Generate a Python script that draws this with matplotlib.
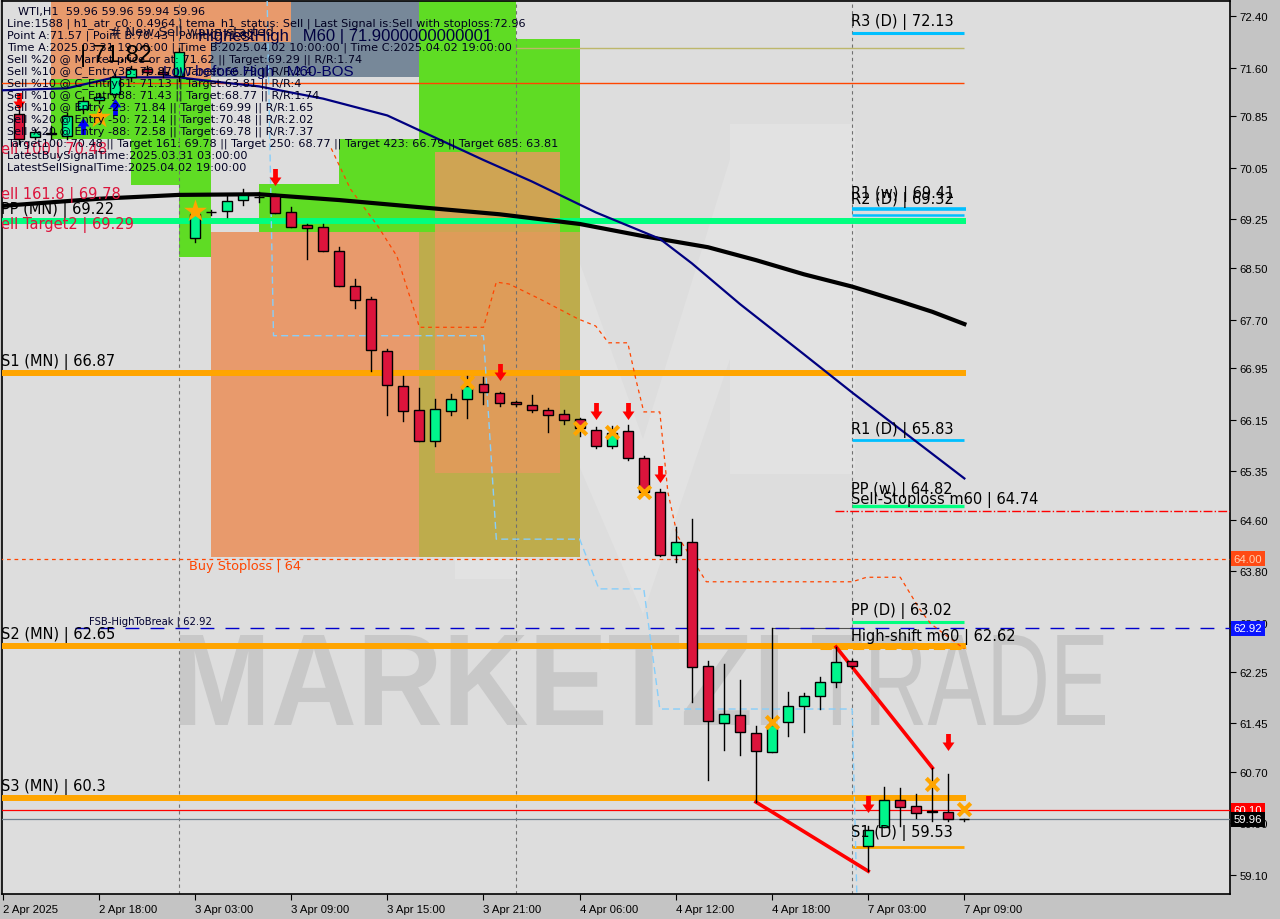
import numpy as np
import matplotlib.pyplot as plt
from matplotlib.patches import Rectangle, PathPatch, Polygon
from matplotlib.path import Path
from matplotlib.textpath import TextPath
from matplotlib.font_manager import FontProperties
from matplotlib.transforms import Affine2D

# ---------------- data ----------------
bars = np.arange(1, 61)
opens = [70.88, 70.53, 70.57, 70.54, 70.96, 71.10, 71.19, 71.46, 71.58, 71.53,
         71.47, 68.96, 69.36, 69.38, 69.55, 69.60, 69.61, 69.37, 69.16, 69.13,
         68.76, 68.22, 68.02, 67.21, 66.67, 66.30, 65.82, 66.28, 66.47, 66.70,
         66.56, 66.42, 66.38, 66.30, 66.24, 66.16, 65.99, 65.74, 65.98, 65.56,
         65.03, 64.06, 64.26, 62.34, 61.45, 61.58, 61.30, 61.01, 61.47, 61.72,
         61.87, 62.09, 62.41, 59.55, 59.84, 60.26, 60.17, 60.07, 60.08, 59.96]
highs = [70.96, 70.65, 70.70, 70.90, 71.15, 71.20, 71.50, 71.62, 71.62, 71.60,
         71.90, 69.41, 69.40, 69.61, 69.72, 69.68, 69.64, 69.44, 69.18, 69.18,
         68.82, 68.33, 68.05, 67.24, 66.83, 66.64, 66.47, 66.55, 66.83, 66.81,
         66.58, 66.44, 66.53, 66.33, 66.30, 66.18, 66.04, 66.05, 66.07, 65.59,
         65.08, 64.49, 64.61, 62.41, 62.37, 62.12, 61.41, 62.93, 61.93, 61.92,
         62.17, 62.63, 62.45, 59.86, 60.46, 60.45, 60.36, 60.76, 60.67, 59.96]
lows = [70.42, 70.50, 70.50, 70.50, 70.90, 71.05, 71.15, 71.40, 71.48, 71.45,
        71.40, 68.90, 69.32, 69.29, 69.47, 69.52, 69.35, 69.13, 68.64, 68.76,
        68.22, 67.88, 66.90, 66.22, 66.13, 65.82, 65.74, 66.22, 66.18, 66.39,
        66.36, 66.36, 66.27, 65.96, 66.08, 65.90, 65.71, 65.71, 65.53, 65.03,
        64.04, 63.95, 61.78, 60.57, 61.04, 60.96, 60.23, 61.00, 61.25, 61.32,
        61.67, 62.01, 62.30, 59.16, 59.84, 59.86, 59.98, 59.94, 59.94, 59.94]
closes = [70.50, 70.60, 70.58, 70.85, 71.08, 71.15, 71.46, 71.58, 71.53, 71.50,
          71.84, 69.33, 69.37, 69.54, 69.63, 69.59, 69.35, 69.13, 69.12, 68.76,
          68.22, 68.00, 67.23, 66.69, 66.28, 65.82, 66.32, 66.47, 66.67, 66.58,
          66.41, 66.40, 66.30, 66.22, 66.15, 66.02, 65.74, 65.94, 65.56, 65.03,
          64.06, 64.26, 62.32, 61.49, 61.59, 61.32, 61.02, 61.42, 61.72, 61.87,
          62.09, 62.40, 62.34, 59.80, 60.26, 60.15, 60.06, 60.09, 59.96, 59.96]

# moving averages (bar, price)
ma_slow_bars = [0, 6, 11, 16, 21, 26, 31, 36, 40, 44, 47, 50, 53, 56, 58, 60]
ma_slow_vals = [69.46, 69.57, 69.63, 69.64, 69.55, 69.44, 69.33, 69.18, 68.99,
                68.82, 68.62, 68.40, 68.21, 67.98, 67.82, 67.63]
ma_fast_bars = [0, 4, 7, 11, 13, 16, 20, 24, 30, 33, 37, 41, 43, 46, 50, 53, 60]
ma_fast_vals = [71.25, 71.28, 71.45, 71.45, 71.39, 71.31, 71.12, 70.86, 70.17,
                69.84, 69.36, 68.95, 68.57, 67.94, 67.16, 66.57, 65.24]

# trailing stop (red dotted) and light blue step line
trail_bars = [20.5, 21.7, 23.4, 24.6, 25.85, 26, 30, 30.8, 31.6, 33.5, 35.9, 37,
              37.8, 39, 39.5, 40, 41, 41.5, 42.1, 42.9, 43.9, 53, 53.9, 56, 57.2,
              57.9, 60]
trail_vals = [70.35, 69.72, 69.15, 68.68, 67.71, 67.58, 67.58, 68.28, 68.25, 68.02,
              67.71, 67.60, 67.34, 67.34, 66.78, 66.27, 66.27, 65.03, 64.35, 64.04,
              63.64, 63.64, 63.71, 63.71, 63.22, 62.99, 62.60]
blue_bars = [16.5, 16.9, 30, 30.8, 36, 37.2, 40, 41, 53, 53.3]
blue_vals = [72.7, 67.45, 67.45, 64.30, 64.30, 63.53, 63.53, 61.67, 61.67, 58.7]

# zones: (bar0, bar1, top, bottom, colour, alpha)
zones = [
    (13, 26, 73.0, 71.455, '#778899', 1.0),
    (3, 18, 73.0, 72.0, '#e89a6c', 1.0),
    (3, 13, 72.0, 71.42, '#e89a6c', 1.0),
    (3, 13, 71.42, 70.50, '#5fdc24', 1.0),
    (8, 13, 70.50, 69.78, '#5fdc24', 1.0),
    (11, 13, 69.78, 68.67, '#5fdc24', 1.0),
    (13, 16, 69.06, 68.67, '#778899', 1.0),
    (16, 21, 69.80, 69.06, '#5fdc24', 1.0),
    (21, 27, 70.50, 69.06, '#5fdc24', 1.0),
    (26, 32, 73.0, 72.04, '#5fdc24', 1.0),
    (26, 36, 72.04, 64.02, '#5fdc24', 1.0),
    (13, 26, 69.06, 64.02, '#e89a6c', 1.0),
    (26, 36, 69.06, 64.02, '#e49a5c', 0.72),
    (27, 34.8, 70.30, 65.32, '#e49a5c', 0.85),
]

# horizontal levels: (price, bar0, bar1, colour, width, style)
levels = [
    (66.87, -1, 60.1, '#ffa500', 4.3, '-'),
    (62.65, -1, 60.1, '#ffa500', 4.3, '-'),
    (60.30, -1, 60.1, '#ffa500', 4.3, '-'),
    (69.22, -1, 60.1, '#00ff7f', 4.3, '-'),
    (71.36, -1, 60.0, '#ff4500', 1.0, '-'),
    (71.90, 32, 60.0, '#bdb76b', 1.0, '-'),
    (72.13, 53, 60.0, '#00bfff', 2.2, '-'),
    (69.41, 53, 60.1, '#00bfff', 2.6, '-'),
    (69.32, 53, 60.0, '#00bfff', 1.8, '-'),
    (65.83, 53, 60.0, '#00bfff', 2.0, '-'),
    (64.82, 53, 60.0, '#00ff7f', 2.4, '-'),
    (63.02, 53, 60.0, '#00ff7f', 2.2, '-'),
    (59.53, 53, 60.0, '#ffa500', 2.0, '-'),
    (62.62, 51, 60.1, '#ffa500', 2.2, '--'),
    (62.92, 48, 53, '#505050', 0.8, '-'),
    (64.74, 51.9, 80, '#ff0000', 1.0, '-.'),
    (62.92, 4.5, 80, '#0000cd', 1.0, (0, (10, 8))),
    (64.00, -1, 80, '#ff4500', 0.9, (0, (3, 3))),
    (60.10, -1, 80, '#ff0000', 0.9, '-'),
    (59.96, -1, 80, '#708090', 0.9, '-'),
]

# labels: (bar, price, text, colour, size)
level_labels = [
    (-0.1, 67.06, 'S1 (MN) | 66.87', '#000000', 10.5),
    (-0.1, 62.83, 'S2 (MN) | 62.65', '#000000', 10.5),
    (-0.1, 60.48, 'S3 (MN) | 60.3', '#000000', 10.5),
    (-0.1, 69.41, 'PP (MN) | 69.22', '#000000', 10.5),
    (-0.1, 69.64, 'ell 161.8 | 69.78', '#dc143c', 10.5),
    (-0.1, 69.18, 'ell Target2 | 69.29', '#dc143c', 10.5),
    (-0.1, 70.34, 'ell 100 | 70.48', '#dc143c', 10.5),
    (52.9, 72.32, 'R3 (D) | 72.13', '#000000', 10.5),
    (52.9, 69.66, 'R1 (w) | 69.41', '#000000', 10.5),
    (52.9, 69.57, 'R2 (D) | 69.32', '#000000', 10.5),
    (52.9, 66.00, 'R1 (D) | 65.83', '#000000', 10.5),
    (52.9, 65.08, 'PP (w) | 64.82', '#000000', 10.5),
    (52.9, 64.92, 'Sell-Stoploss m60 | 64.74', '#000000', 10.5),
    (52.9, 63.20, 'PP (D) | 63.02', '#000000', 10.5),
    (52.9, 62.80, 'High-shift m60 | 62.62', '#000000', 10.5),
    (52.9, 59.77, 'S1 (D) | 59.53', '#000000', 10.5),
    (11.6, 63.885, 'Buy Stoploss | 64', '#ff4500', 9.3),
    (5.4, 63.03, 'FSB-HighToBreak | 62.92', '#000030', 7.2),
]

info_lines = [
    'WTI,H1  59.96 59.96 59.94 59.96',
    'Line:1588 | h1_atr_c0: 0.4964 | tema_h1_status: Sell | Last Signal is:Sell with stoploss:72.96',
    'Point A:71.57 | Point B:70.43 | Point C:71.82',
    'Time A:2025.03.31 19:00:00 | Time B:2025.04.02 10:00:00 | Time C:2025.04.02 19:00:00',
    'Sell %20 @ Market price or at: 71.62 || Target:69.29 || R/R:1.74',
    'Sell %10 @ C_Entry38: 70.87 || Target:66.79 || R/R:2.4',
    'Sell %10 @ C_Entry61: 71.13 || Target:63.81 || R/R:4',
    'Sell %10 @ C_Entry88: 71.43 || Target:68.77 || R/R:1.74',
    'Sell %10 @ Entry -23: 71.84 || Target:69.99 || R/R:1.65',
    'Sell %20 @ Entry -50: 72.14 || Target:70.48 || R/R:2.02',
    'Sell %20 @ Entry -88: 72.58 || Target:69.78 || R/R:7.37',
    'Target100: 70.48 || Target 161: 69.78 || Target 250: 68.77 || Target 423: 66.79 || Target 685: 63.81',
    'LatestBuySignalTime:2025.03.31 03:00:00',
    'LatestSellSignalTime:2025.04.02 19:00:00',
]

sell_arrows_x = [1, 17, 31, 37, 39, 41, 54, 59]
sell_arrows_y = [71.08, 69.91, 66.89, 66.28, 66.28, 65.31, 60.20, 61.16]
buy_arrows_x = [5, 7]
buy_arrows_y = [70.70, 70.99]
cross_x = [29, 36, 38, 40, 48, 58, 60]
cross_y = [66.73, 66.02, 65.96, 65.03, 61.47, 60.51, 60.12]
star_x = [6, 12]
star_y = [70.84, 69.38]

trend_lines = [([47, 54], [60.23, 59.16]), ([52, 58], [62.63, 60.76])]

xtick_bars = list(range(0, 61, 6))
xtick_labels = ['2 Apr 2025', '2 Apr 18:00', '3 Apr 03:00', '3 Apr 09:00', '3 Apr 15:00',
                '3 Apr 21:00', '4 Apr 06:00', '4 Apr 12:00', '4 Apr 18:00', '7 Apr 03:00',
                '7 Apr 09:00']
ytick_vals = [72.40, 71.60, 70.85, 70.05, 69.25, 68.50, 67.70, 66.95, 66.15, 65.35,
              64.60, 63.80, 63.00, 62.25, 61.45, 60.70, 59.90, 59.10]
separators = [11, 32, 53]

price_boxes = [(64.00, '#ff4a14', '#ffd0b0'), (62.92, '#0a14ff', 'white'),
               (60.10, '#ff0000', 'white'), (59.96, '#000000', 'white')]

# ---------------- figure ----------------
W, H = 1280, 920
L, R, T, B = 2, 1230, 2, 895
fig = plt.figure(figsize=(W / 100, H / 100), dpi=100, facecolor='#c4c4c4')
ax = fig.add_axes([L / W, 1 - B / H, (R - L) / W, (B - T) / H])
ax.set_facecolor('#dddddd')
ax.set_xlim(-0.037, 76.57)
ax.set_ylim(58.806, 72.632)


def axfrac(x, y):
    return (x - L) / (R - L), 1 - (y - T) / (B - T)


# faint logo in the background (pixel outline of the big "M")
logo_px = [(455, 125), (530, 125), (643, 440), (730, 160), (730, 125), (855, 125),
           (855, 475), (730, 475), (730, 360), (643, 615), (520, 330), (520, 580),
           (455, 580)]
ax.add_patch(Polygon([axfrac(x, y) for x, y in logo_px], closed=True, transform=ax.transAxes,
                     facecolor='white', alpha=0.15, lw=0, zorder=0.5))

for b0, b1, top, bot, col, a in zones:
    ax.add_patch(Rectangle((b0, bot), b1 - b0, top - bot, color=col, alpha=a, lw=0, zorder=1))


# watermark, fitted into its pixel box
def watermark(word, weight, box, col):
    tp = TextPath((0, 0), word, size=100, prop=FontProperties(family='Liberation Sans', weight=weight))
    bb = tp.get_extents()
    fx0, fy0 = axfrac(box[0], box[3])
    fx1, fy1 = axfrac(box[1], box[2])
    sx = (fx1 - fx0) / bb.width
    sy = (fy1 - fy0) / bb.height
    tr = Affine2D().translate(-bb.x0, -bb.y0).scale(sx, sy).translate(fx0, fy0)
    ax.add_patch(PathPatch(tp, transform=tr + ax.transAxes, facecolor=col, edgecolor='none',
                           zorder=1.5))


watermark('MARKETZI', 'bold', (180, 778, 636, 726), '#c8c8c8')
watermark('TRADE', 'normal', (812, 1105, 636, 726), '#c6c6c6')

for s in separators:
    ax.axvline(s, color='#707070', lw=0.8, ls=(0, (3, 3)), zorder=2)

for p, b0, b1, col, lw, ls in levels:
    ax.plot([b0, b1], [p, p], color=col, lw=lw, ls=ls, zorder=3, solid_capstyle='butt')

ax.plot(trail_bars, trail_vals, color='#ff4500', lw=0.9, ls=(0, (3, 3)), zorder=3)
ax.plot(blue_bars, blue_vals, color='#87cefa', lw=1.0, ls=(0, (5, 3)), zorder=3)

ax.plot(ma_slow_bars, ma_slow_vals, color='black', lw=3.0, zorder=4)
ax.plot(ma_fast_bars, ma_fast_vals, color='#000080', lw=1.6, zorder=4)

for xs, ys in trend_lines:
    ax.plot(xs, ys, color='#ff0000', lw=2.6, zorder=4)

# candles
bw = 0.62
for i, o, h, l, c in zip(bars, opens, highs, lows, closes):
    ax.plot([i, i], [l, h], color='black', lw=1.0, zorder=5)
    up = c >= o
    ax.add_patch(Rectangle((i - bw / 2, min(o, c)), bw, max(abs(c - o), 0.012),
                           facecolor='#00f58c' if up else '#dc143c', edgecolor='black',
                           lw=1.0, zorder=6))

# signal markers
down_arrow = Path([(-0.28, 1), (0.28, 1), (0.28, 0), (0.7, 0), (0, -1), (-0.7, 0), (-0.28, 0), (-0.28, 1)],
                  [Path.MOVETO] + [Path.LINETO] * 6 + [Path.CLOSEPOLY])
up_arrow = Path([(-0.28, -1), (0.28, -1), (0.28, 0), (0.7, 0), (0, 1), (-0.7, 0), (-0.28, 0), (-0.28, -1)],
                [Path.MOVETO] + [Path.LINETO] * 6 + [Path.CLOSEPOLY])
ax.scatter(sell_arrows_x, sell_arrows_y, marker=down_arrow, s=150, color='#ff0000', lw=0, zorder=7)
ax.scatter(buy_arrows_x, buy_arrows_y, marker=up_arrow, s=150, color='#0000ff', lw=0, zorder=7)
ax.scatter(cross_x, cross_y, marker='x', s=80, color='#ffa500', lw=3, zorder=7)
ax.scatter(star_x, star_y, marker='*', s=300, color='#ffa500', lw=0, zorder=7)

for b, p, t, col, fs in level_labels:
    ax.text(b, p, t, color=col, fontsize=fs, va='center', ha='left', zorder=8, clip_on=True)

# info block (top left)
for k, line in enumerate(info_lines):
    ax.text(*axfrac(18 if k == 0 else 7, 12 + 12 * k), line, transform=ax.transAxes,
            fontsize=8.1, color='#000020', va='center', ha='left', zorder=9)
ax.text(*axfrac(110, 33), '# New Sell wave started', transform=ax.transAxes, fontsize=9.5,
        color='#101030', va='center', zorder=9)
ax.text(*axfrac(198, 37), 'HighestHigh   M60 | 71.9000000000001', transform=ax.transAxes,
        fontsize=12, family='Liberation Sans', color='#000040', va='center', zorder=9)
ax.text(*axfrac(80, 56), '| 71.82', transform=ax.transAxes, fontsize=17,
        family='Liberation Sans', color='#000000', va='center', zorder=9)
ax.text(*axfrac(163, 72), 'Low before High   M60-BOS', transform=ax.transAxes,
        fontsize=11, family='Liberation Sans', color='#000060', va='center', zorder=9)

# axes styling
for sp in ax.spines.values():
    sp.set_color('black')
    sp.set_linewidth(1.2)
ax.yaxis.tick_right()
ax.set_yticks(ytick_vals)
ax.set_yticklabels([f'{v:.2f}' for v in ytick_vals])
ax.set_xticks(xtick_bars)
ax.set_xticklabels(xtick_labels)
ax.tick_params(axis='both', colors='black', labelsize=8.2, length=4, width=0.8, direction='out')
ax.tick_params(axis='y', pad=3)
ax.tick_params(axis='x', pad=3)
for lab in ax.get_xticklabels():
    lab.set_ha('left')
    lab.set_family('Liberation Sans')
for lab in ax.get_yticklabels():
    lab.set_family('Liberation Sans')

for p, bg_col, fg in price_boxes:
    ax.text(1.003, p, f'{p:.2f}', transform=ax.get_yaxis_transform(), fontsize=8.2,
            family='Liberation Sans', color=fg, va='center', ha='left', zorder=10, clip_on=False,
            bbox=dict(boxstyle='square,pad=0.22', facecolor=bg_col, edgecolor='none'))

fig.savefig('out.png', dpi=100, facecolor=fig.get_facecolor())
